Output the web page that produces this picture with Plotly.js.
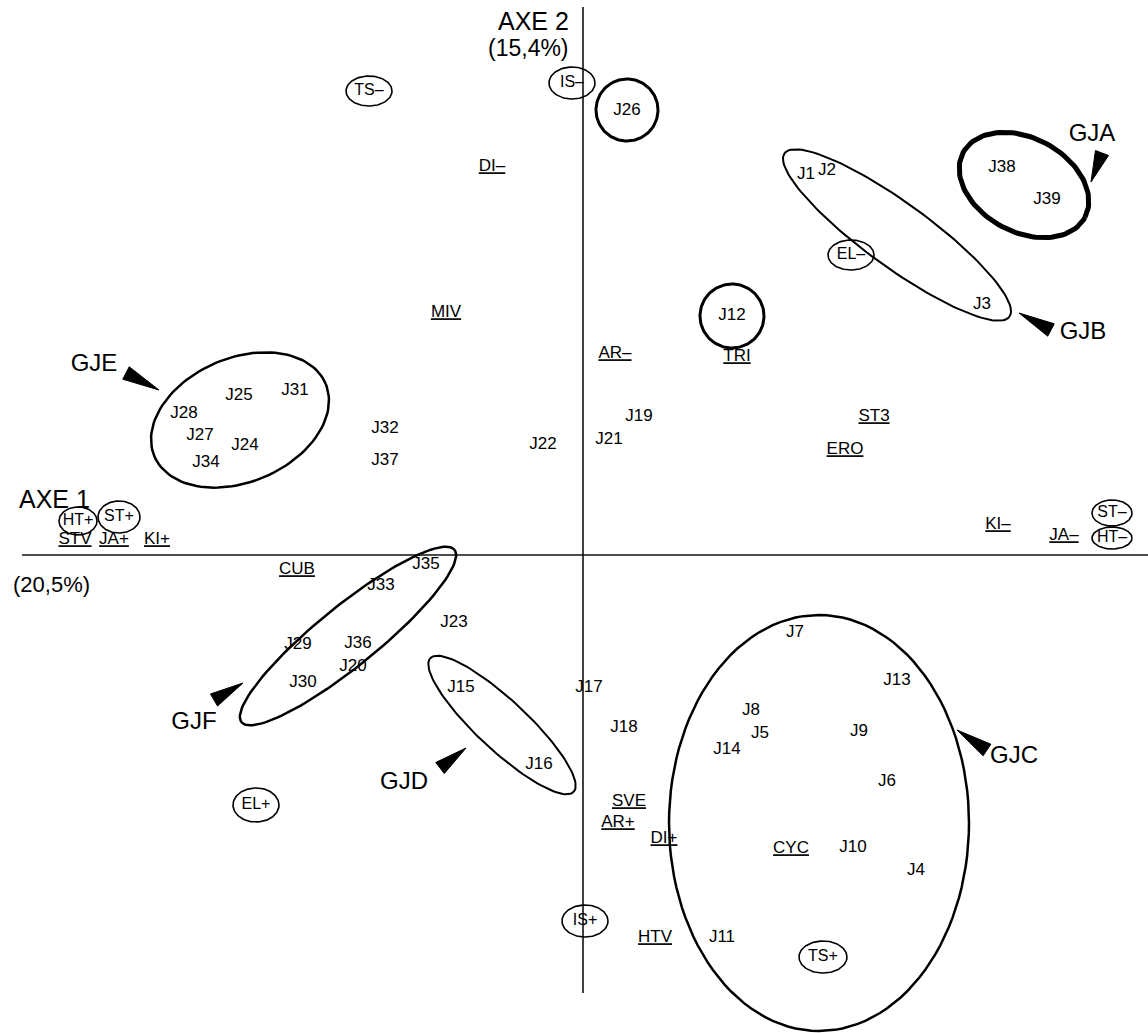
<!DOCTYPE html>
<html>
<head>
<meta charset="utf-8">
<script src="https://cdn.plot.ly/plotly-3.0.1.min.js"></script>
<style>
  html, body { margin: 0; padding: 0; background: #fff; }
  #plan { width: 1148px; height: 1033px; }
</style>
</head>
<body>
<div id="plan"></div>
<script>
// individus (jardins J1..J39), coordonnees sur axe 1 / axe 2
let indLabels = ["J1", "J2", "J3", "J4", "J5", "J6", "J7", "J8", "J9", "J10",
  "J11", "J12", "J13", "J14", "J15", "J16", "J17", "J18", "J19", "J20",
  "J21", "J22", "J23", "J24", "J25", "J26", "J27", "J28", "J29", "J30",
  "J31", "J32", "J33", "J34", "J35", "J36", "J37", "J38", "J39"];
let indX = [2.23, 2.44, 3.99, 3.33, 1.77, 3.04, 2.12, 1.68, 2.76, 2.70,
  1.39, 1.49, 3.14, 1.44, -1.22, -0.44, 0.06, 0.41, 0.56, -2.30,
  0.26, -0.40, -1.29, -3.38, -3.44, 0.44, -3.83, -3.99, -2.85, -2.80,
  -2.88, -1.98, -2.02, -3.77, -1.57, -2.25, -1.98, 4.19, 4.64];
let indY = [3.80, 3.84, 2.50, -3.16, -1.79, -2.27, -0.78, -1.56, -1.77, -2.93,
  -3.83, 2.39, -1.26, -1.95, -1.33, -2.10, -1.33, -1.73, 1.38, -1.12,
  1.15, 1.10, -0.68, 1.09, 1.59, 4.44, 1.19, 1.41, -0.90, -1.28,
  1.64, 1.26, -0.31, 0.92, -0.10, -0.89, 0.94, 3.87, 3.55];

// variables supplementaires (soulignees)
let varLabels = ["DI–", "MIV", "AR–", "TRI", "ST3", "ERO", "KI–", "JA–", "STV", "JA+",
  "KI+", "CUB", "SVE", "AR+", "DI+", "CYC", "HTV"];
let varX = [-0.91, -1.37, 0.32, 1.54, 2.91, 2.62, 4.15, 4.81, -5.08, -4.69,
  -4.26, -2.86, 0.46, 0.35, 0.81, 2.08, 0.72];
let varY = [3.88, 2.42, 2.01, 1.98, 1.38, 1.05, 0.30, 0.19, 0.15, 0.15,
  0.15, -0.15, -2.47, -2.68, -2.84, -2.94, -3.83];

// modalites actives (entourees)
let modLabels = ["TS–", "IS–", "EL–", "EL+", "IS+", "TS+", "HT+", "ST+", "ST–", "HT–"];
let modX = [-2.14, -0.11, 2.68, -3.27, 0.02, 2.40, -5.05, -4.64, 5.29, 5.29];
let modY = [4.64, 4.72, 3.00, -2.50, -3.66, -4.02, 0.34, 0.38, 0.42, 0.17];

// groupes de jardins
let groupNames = ["GJA", "GJB", "GJC", "GJD", "GJE", "GJF"];
let groupCx = [4.41, 3.14, 2.36, -0.81, -3.43, -2.35];
let groupCy = [3.70, 3.20, -2.68, -1.70, 1.35, -0.81];
let groupA = [0.69, 1.39, 1.50, 0.98, 0.93, 1.37];
let groupB = [0.47, 0.32, 2.08, 0.25, 0.62, 0.30];
let groupAngle = [-28, -36, 0, -43, 23, 39];
let groupLabelX = [5.09, 5.00, 4.31, -1.79, -4.89, -3.89];
let groupLabelY = [4.20, 2.22, -2.02, -2.28, 1.90, -1.68];
let arrowTipX = [5.08, 4.36, 3.74, -1.17, -4.24, -3.40];
let arrowTipY = [3.73, 2.42, -1.75, -1.93, 1.65, -1.28];
let arrowBaseX = [5.19, 4.68, 4.04, -1.43, -4.57, -3.69];
let arrowBaseY = [4.02, 2.25, -1.95, -2.13, 1.82, -1.45];

// jardins isoles entoures
let singleX = [0.44, 1.49];
let singleY = [4.45, 2.39];
let singleR = [0.31, 0.32];

// axes
let axis1X = [-5.61, 5.65];
let axis2Y = [-4.38, 5.48];

// styles
let groupLineWidth = [5, 2, 2.5, 2, 2.5, 2.5];
let modRx = [0.23, 0.23, 0.23, 0.23, 0.23, 0.24, 0.19, 0.21, 0.20, 0.20];
let modRy = [0.15, 0.16, 0.15, 0.17, 0.16, 0.16, 0.14, 0.16, 0.13, 0.11];
let fontFamily = "Liberation Sans, Arial, sans-serif";

function ellipse(cx, cy, a, b, angleDeg) {
  let xs = [], ys = [];
  let t = angleDeg * Math.PI / 180;
  for (let i = 0; i <= 120; i++) {
    let u = 2 * Math.PI * i / 120;
    xs.push(cx + a * Math.cos(u) * Math.cos(t) - b * Math.sin(u) * Math.sin(t));
    ys.push(cy + a * Math.cos(u) * Math.sin(t) + b * Math.sin(u) * Math.cos(t));
  }
  return {x: xs, y: ys};
}

let traces = [];

// axis lines
traces.push({x: axis1X, y: [0, 0], mode: "lines", line: {color: "#111", width: 1.6}, hoverinfo: "skip"});
traces.push({x: [0, 0], y: axis2Y, mode: "lines", line: {color: "#111", width: 1.6}, hoverinfo: "skip"});

// group outlines
groupNames.forEach(function(name, i) {
  let e = ellipse(groupCx[i], groupCy[i], groupA[i], groupB[i], groupAngle[i]);
  traces.push({x: e.x, y: e.y, mode: "lines", line: {color: "#000", width: groupLineWidth[i]}, hoverinfo: "skip"});
});

singleX.forEach(function(x, i) {
  let e = ellipse(x, singleY[i], singleR[i], singleR[i], 0);
  traces.push({x: e.x, y: e.y, mode: "lines", line: {color: "#000", width: 3}, hoverinfo: "skip"});
});

modLabels.forEach(function(lab, i) {
  let e = ellipse(modX[i], modY[i], modRx[i], modRy[i], 0);
  traces.push({x: e.x, y: e.y, mode: "lines", line: {color: "#000", width: 1.6}, hoverinfo: "skip"});
});

traces.push({
  x: indX, y: indY, text: indLabels, mode: "text", textposition: "middle center",
  textfont: {family: fontFamily, size: 17, color: "#000"}, hoverinfo: "text"
});
traces.push({
  x: varX, y: varY, text: varLabels.map(function(s) { return "<u>" + s + "</u>"; }),
  mode: "text", textposition: "middle center",
  textfont: {family: fontFamily, size: 17, color: "#000"}, hoverinfo: "skip"
});
traces.push({
  x: modX, y: modY, text: modLabels, mode: "text", textposition: "middle center",
  textfont: {family: fontFamily, size: 16, color: "#000"}, hoverinfo: "skip"
});
traces.push({
  x: groupLabelX, y: groupLabelY, text: groupNames, mode: "text", textposition: "middle center",
  textfont: {family: fontFamily, size: 24, color: "#000"}, hoverinfo: "skip"
});

// arrow heads (filled wedges)
let shapes = groupNames.map(function(name, i) {
  let dx = arrowTipX[i] - arrowBaseX[i];
  let dy = arrowTipY[i] - arrowBaseY[i];
  let len = Math.sqrt(dx * dx + dy * dy);
  let px = -dy / len * 0.07, py = dx / len * 0.07;
  let path = "M" + arrowTipX[i] + "," + arrowTipY[i] +
    " L" + (arrowBaseX[i] + px) + "," + (arrowBaseY[i] + py) +
    " L" + (arrowBaseX[i] - px) + "," + (arrowBaseY[i] - py) + " Z";
  return {type: "path", xref: "x", yref: "y", path: path, fillcolor: "#000", line: {color: "#000", width: 1}};
});

let annotations = [
  {x: -0.12, y: 5.34, xanchor: "right", text: "AXE 2", showarrow: false, font: {family: fontFamily, size: 25, color: "#000"}},
  {x: -0.12, y: 5.07, xanchor: "right", text: "(15,4%)", showarrow: false, font: {family: fontFamily, size: 23, color: "#000"}},
  {x: -5.66, y: 0.56, xanchor: "left", text: "AXE 1", showarrow: false, font: {family: fontFamily, size: 25, color: "#000"}},
  {x: -5.72, y: -0.29, xanchor: "left", text: "(20,5%)", showarrow: false, font: {family: fontFamily, size: 22, color: "#000"}}
];

let layout = {
  width: 1148,
  height: 1033,
  margin: {l: 0, r: 0, t: 0, b: 0, pad: 0},
  paper_bgcolor: "#fff",
  plot_bgcolor: "#fff",
  showlegend: false,
  xaxis: {range: [-5.83, 5.65], visible: false, fixedrange: true},
  yaxis: {range: [-4.78, 5.55], visible: false, fixedrange: true},
  shapes: shapes,
  annotations: annotations
};

Plotly.newPlot("plan", traces, layout, {displayModeBar: false, staticPlot: true});
</script>
</body>
</html>
